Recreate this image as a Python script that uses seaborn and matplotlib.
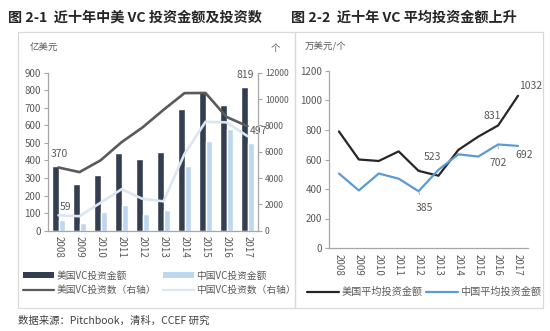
import numpy as np
import pandas as pd
import matplotlib
matplotlib.use("Agg")
import matplotlib.pyplot as plt
from matplotlib.patches import Rectangle
from matplotlib.lines import Line2D
from matplotlib.patches import Patch
import seaborn as sns

# ---------------- data ----------------
years = ["2008", "2009", "2010", "2011", "2012", "2013", "2014", "2015", "2016", "2017"]
us_amount = [370, 265, 315, 440, 410, 450, 695, 790, 718, 819]          # 亿美元
cn_amount = [59, 42, 107, 148, 93, 118, 370, 513, 578, 497]             # 亿美元
us_count = [4800, 4450, 5340, 6720, 7840, 9180, 10450, 10460, 8640, 7940]  # 个
cn_count = [1170, 1100, 2120, 3150, 2420, 2230, 5830, 8270, 8230, 7180]    # 个
us_avg = [790, 600, 590, 655, 523, 490, 665, 755, 831, 1032]            # 万美元/个
cn_avg = [505, 390, 505, 470, 385, 530, 635, 620, 702, 692]             # 万美元/个

left_yticks = list(range(0, 901, 100))
right_yticks = list(range(0, 12001, 2000))
avg_yticks = list(range(0, 1201, 200))

# ---------------- style ----------------
sns.set_theme(style="white")
plt.rcParams["font.family"] = ["Noto Sans CJK SC", "DejaVu Sans"]

C_US_BAR = "#333f50"
C_CN_BAR = "#bdd7ee"
C_US_CNT = "#5a5a5a"
C_CN_CNT = "#dce6f2"
C_US_AVG = "#262626"
C_CN_AVG = "#5b9bd5"
C_TXT = "#595959"
C_SPINE = "#a6a6a6"
C_BOX = "#d9d9d9"

W, H = 550, 331
fig = plt.figure(figsize=(W / 100, H / 100), dpi=100)


def fx(px):
    return px / W


def fy(py):
    return 1 - py / H


# panel boxes
for x0, x1 in [(18, 295), (295, 543)]:
    fig.patches.append(Rectangle((fx(x0), fy(308)), fx(x1) - fx(x0), fy(32) - fy(308),
                                 transform=fig.transFigure, fill=False,
                                 edgecolor=C_BOX, linewidth=0.9))

# titles
fig.text(fx(8), fy(18), "图 2-1  近十年中美 VC 投资金额及投资数", fontsize=10.2,
         fontweight="bold", color="#262626", va="center", ha="left")
fig.text(fx(291), fy(18), "图 2-2  近十年 VC 平均投资金额上升", fontsize=10.2,
         fontweight="bold", color="#262626", va="center", ha="left")
fig.text(fx(18), fy(321), "数据来源：Pitchbook，清科，CCEF 研究", fontsize=7.5,
         color="#404040", va="center", ha="left")

n = len(years)
pos = np.arange(n)

# ---------------- left chart ----------------
ax = fig.add_axes([fx(48), fy(230.7), fx(258) - fx(48), fy(72.7) - fy(230.7)])
df_bar = pd.DataFrame({
    "year": years * 2,
    "amount": us_amount + cn_amount,
    "series": ["美国VC投资金额"] * n + ["中国VC投资金额"] * n,
})
sns.barplot(data=df_bar, x="year", y="amount", hue="series",
            palette=[C_US_BAR, C_CN_BAR], width=0.6, gap=0,
            saturation=1, ax=ax, legend=False)
ax.set_ylim(0, 900)
ax.set_xlim(-0.5, n - 0.5)
ax.set_yticks(left_yticks)
ax.set_xlabel("")
ax.set_ylabel("")

ax2 = ax.twinx()
sns.lineplot(x=pos, y=us_count, color=C_US_CNT, linewidth=1.9, ax=ax2)
sns.lineplot(x=pos, y=cn_count, color=C_CN_CNT, linewidth=1.9, ax=ax2)
ax2.set_ylim(0, 12000)
ax2.set_xlim(-0.5, n - 0.5)
ax2.set_yticks(right_yticks)

for a in (ax, ax2):
    for s in a.spines.values():
        s.set_visible(False)
ax.spines["left"].set_visible(True)
ax.spines["bottom"].set_visible(True)
ax2.spines["right"].set_visible(True)
for s in (ax.spines["left"], ax.spines["bottom"], ax2.spines["right"]):
    s.set_color(C_SPINE)
    s.set_linewidth(0.9)

ax.set_xticks(pos)
ax.set_xticklabels(years, rotation=-90, fontsize=7, color=C_TXT)
ax.set_xticks(np.arange(-0.5, n, 1.0), minor=True)
ax.tick_params(axis="x", which="major", length=0, pad=4)
ax.tick_params(axis="x", which="minor", length=3, color=C_SPINE, width=0.8, direction="out")
ax.tick_params(axis="y", length=3, color=C_SPINE, width=0.8, labelsize=7,
               labelcolor=C_TXT, pad=2, left=True)
ax2.tick_params(axis="y", length=3, color=C_SPINE, width=0.8, labelsize=6.2,
                labelcolor=C_TXT, pad=2, right=True)
ax.grid(False)
ax2.grid(False)

# data labels
lab_kw = dict(textcoords="offset points", ha="center", va="center", fontsize=7.5, color=C_TXT)
ax.annotate(str(us_amount[0]), (0 - 0.15, us_amount[0]), xytext=(3, 8.5), **lab_kw)
ax.annotate(str(cn_amount[0]), (0 + 0.15, cn_amount[0]), xytext=(2.5, 9.6), **lab_kw)
ax.annotate(str(us_amount[-1]), (n - 1 - 0.15, us_amount[-1]), xytext=(0.8, 8.6), **lab_kw)
ax.annotate(str(cn_amount[-1]), (n - 1 + 0.15, cn_amount[-1]), xytext=(5.8, 9), **lab_kw)

fig.text(fx(30), fy(48), "亿美元", fontsize=6.8, color=C_TXT, va="center", ha="left")
fig.text(fx(275), fy(48), "个", fontsize=6.8, color=C_TXT, va="center", ha="center")

# left legend
hl = [Patch(facecolor=C_US_BAR, edgecolor="none"), Patch(facecolor=C_CN_BAR, edgecolor="none"),
      Line2D([], [], color=C_US_CNT, lw=1.6), Line2D([], [], color=C_CN_CNT, lw=1.6)]
ll = ["美国VC投资金额", "中国VC投资金额", "美国VC投资数（右轴）", "中国VC投资数（右轴）"]
order = [0, 2, 1, 3]
leg = fig.legend([hl[i] for i in order], [ll[i] for i in order], ncol=2,
                 loc="center left", bbox_to_anchor=(fx(23), fy(283)),
                 frameon=False, fontsize=7, handlelength=3.2, handleheight=0.55,
                 handletextpad=0.25, columnspacing=0.7, labelspacing=0.45,
                 borderpad=0, borderaxespad=0)
for t in leg.get_texts():
    t.set_color(C_TXT)

# ---------------- right chart ----------------
ar = fig.add_axes([fx(329), fy(248), fx(528) - fx(329), fy(71) - fy(248)])
sns.lineplot(x=pos, y=us_avg, color=C_US_AVG, linewidth=1.6, ax=ar)
sns.lineplot(x=pos, y=cn_avg, color=C_CN_AVG, linewidth=1.6, ax=ar)
ar.set_ylim(0, 1200)
ar.set_xlim(-0.5, n - 0.5)
ar.set_yticks(avg_yticks)
ar.set_xticks(pos)
ar.set_xticklabels(years, rotation=-90, fontsize=7, color=C_TXT)
ar.set_xticks(np.arange(-0.5, n, 1.0), minor=True)
ar.tick_params(axis="x", which="major", length=0, pad=4)
ar.tick_params(axis="x", which="minor", length=3, color=C_SPINE, width=0.8, direction="out")
ar.tick_params(axis="y", length=3, color=C_SPINE, width=0.8, labelsize=7,
               labelcolor=C_TXT, pad=2, left=True)
ar.grid(False)
for k, s in ar.spines.items():
    s.set_visible(k in ("left", "bottom"))
    s.set_color(C_SPINE)
    s.set_linewidth(0.9)

fig.text(fx(305), fy(47), "万美元/个", fontsize=6.8, color=C_TXT, va="center", ha="left")

i12 = years.index("2012")
i16 = years.index("2016")
ar.annotate(str(us_avg[i12]), (i12, us_avg[i12]), xytext=(10, 10),
            arrowprops=dict(arrowstyle="-", color="#a6a6a6", lw=0.7, shrinkA=4, shrinkB=1), **lab_kw)
ar.annotate(str(cn_avg[i12]), (i12, cn_avg[i12]), xytext=(4, -12),
            arrowprops=dict(arrowstyle="-", color="#a6a6a6", lw=0.7, shrinkA=4, shrinkB=1), **lab_kw)
ar.annotate(str(us_avg[i16]), (i16, us_avg[i16]), xytext=(-4.6, 6.8), **lab_kw)
ar.annotate(str(cn_avg[i16]), (i16, cn_avg[i16]), xytext=(0, -13),
            arrowprops=dict(arrowstyle="-", color="#a6a6a6", lw=0.7, shrinkA=4, shrinkB=1), **lab_kw)
ar.annotate(str(us_avg[-1]), (n - 1, us_avg[-1]), xytext=(9, 7), **lab_kw)
ar.annotate(str(cn_avg[-1]), (n - 1, cn_avg[-1]), xytext=(4.3, -6.5), **lab_kw)

hr = [Line2D([], [], color=C_US_AVG, lw=1.6), Line2D([], [], color=C_CN_AVG, lw=1.6)]
legr = fig.legend(hr, ["美国平均投资金额", "中国平均投资金额"], ncol=2,
                  loc="center left", bbox_to_anchor=(fx(307), fy(292)),
                  frameon=False, fontsize=7.3, handlelength=3.2,
                  handletextpad=0.2, columnspacing=0.3,
                  borderpad=0, borderaxespad=0)
for t in legr.get_texts():
    t.set_color(C_TXT)

fig.savefig("out.png", dpi=100)
